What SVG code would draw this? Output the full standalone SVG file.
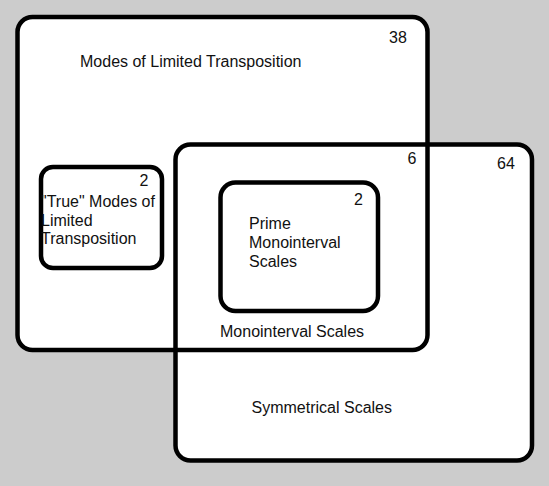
<svg xmlns="http://www.w3.org/2000/svg" width="549" height="486" viewBox="0 0 549 486">
<style>
.fill{fill:#ffffff;stroke:none}
.box{fill:none;stroke:#000000;stroke-width:4.5}
.inner{fill:#ffffff;stroke:#000000;stroke-width:4.5}
text{font-family:"Liberation Sans",Arial,sans-serif;font-size:16px;fill:#111111}
</style>
<rect x="0" y="0" width="549" height="486" fill="#cccccc"/>
<g id="fills">
<rect class="fill" x="17.5" y="17" width="410" height="333" rx="15"/>
<rect class="fill" x="175.5" y="144.5" width="356.5" height="316" rx="15"/>
</g>
<g id="modes-of-limited-transposition">
<rect class="box" x="17.5" y="17" width="410" height="333" rx="15"/>
<text x="80" y="67">Modes of Limited Transposition</text>
<text x="389" y="43">38</text>
</g>
<g id="symmetrical-scales">
<rect class="box" x="175.5" y="144.5" width="356.5" height="316" rx="15"/>
<text x="251.5" y="413">Symmetrical Scales</text>
<text x="497" y="169">64</text>
</g>
<g id="monointerval-scales">
<text x="220" y="337">Monointerval Scales</text>
<text x="407.5" y="164">6</text>
</g>
<g id="true-modes">
<rect class="inner" x="41" y="167" width="121" height="101" rx="12"/>
<text x="139.5" y="186">2</text>
<text x="41" y="207">"True" Modes of</text>
<text x="41" y="225.5">Limited</text>
<text x="41" y="244">Transposition</text>
</g>
<g id="prime-monointerval-scales">
<rect class="inner" x="220.5" y="182.5" width="157.5" height="128.5" rx="15"/>
<text x="354" y="205">2</text>
<text x="249" y="228.5">Prime</text>
<text x="249" y="248">Monointerval</text>
<text x="249" y="267">Scales</text>
</g>
<g id="connectors"></g>
</svg>
